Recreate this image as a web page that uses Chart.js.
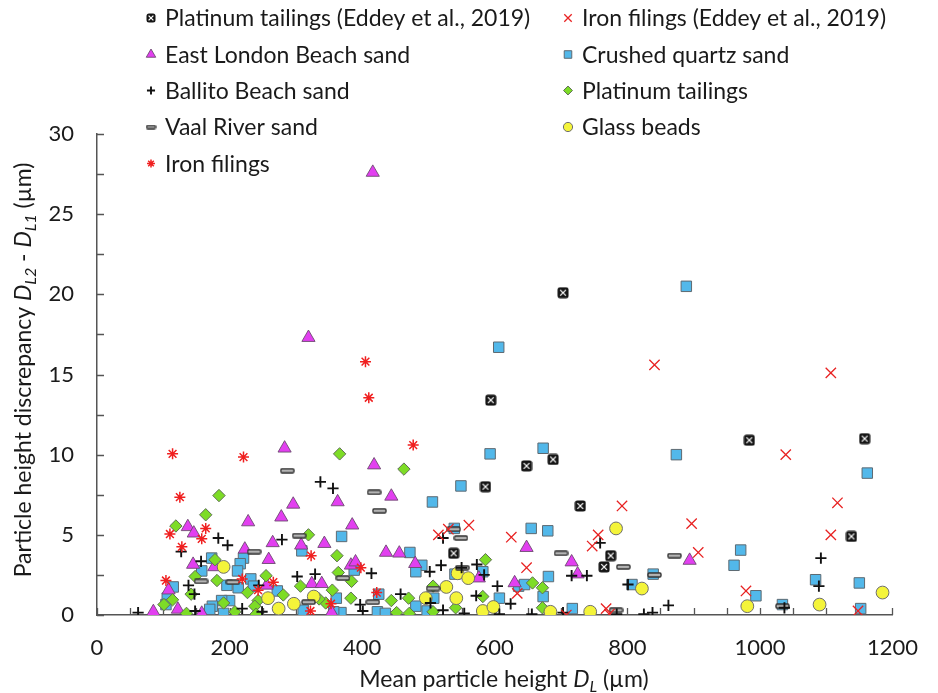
<!DOCTYPE html>
<html>
<head>
<meta charset="utf-8">
<script src="https://cdn.jsdelivr.net/npm/chart.js@4.4.1/dist/chart.umd.min.js"></script>
<style>
  html, body { margin: 0; padding: 0; background: #fff; }
  #wrap { width: 938px; height: 693px; }
</style>
</head>
<body>
<div id="wrap"><canvas id="c" width="938" height="693"></canvas></div>
<script>
// ---- data: [mean particle height D_L (µm), discrepancy D_L2 - D_L1 (µm)] ----
const platinumTailingsEddey = [[703,20.1],[594,13.4],[984,10.9],[1158,11.0],[586,8.0],[648,9.3],[688,9.7],[729,6.8],[538,3.85],[775,3.7],[765,3.0],[1138,4.9]];
const ironFilingsEddey = [[515,5.0],[530,5.35],[561,5.6],[625,4.85],[648,2.95],[634,1.35],[708,0.0],[756,5.0],[747,4.3],[792,6.8],[841,15.6],[897,5.7],[907,3.9],[979,1.5],[1039,10.0],[1107,15.1],[1117,7.0],[1107,5.0],[1148,0.25],[768,0.4],[773,0.05]];
const eastLondonBeachSand = [[416,27.6],[319,17.3],[283,10.4],[296,6.9],[278,6.1],[228,5.8],[137,5.5],[146,5.1],[265,4.5],[223,4.1],[308,4.35],[259,3.45],[145,3.15],[177,3.0],[108,1.55],[85,0.2],[158,0.1],[122,0.35],[256,1.85],[418,9.35],[444,7.4],[363,7.05],[385,5.6],[343,4.45],[436,3.9],[456,3.85],[480,3.2],[383,3.1],[390,3.3],[324,1.95],[339,1.95],[354,0.15],[576,2.3],[648,4.2],[716,3.3],[725,2.55],[630,2.0],[894,3.4]];
const crushedQuartzSand = [[889,20.5],[606,16.7],[673,10.4],[593,10.05],[874,10.0],[1162,8.85],[549,8.05],[506,7.05],[539,5.4],[655,5.4],[680,5.25],[369,4.9],[309,4.0],[472,3.9],[490,3.1],[481,2.7],[388,2.8],[540,2.55],[582,2.7],[361,1.05],[425,1.3],[508,1.05],[481,0.55],[498,0.25],[423,0.2],[435,0.1],[368,0.15],[357,0.2],[311,0.3],[173,3.55],[221,3.55],[216,3.2],[212,2.75],[158,2.75],[232,2.25],[115,1.75],[196,1.85],[213,1.7],[236,1.8],[106,1.05],[104,0.65],[200,0.9],[188,0.9],[174,0.55],[170,0.35],[191,0.1],[272,1.5],[681,2.4],[636,1.8],[645,1.9],[673,1.15],[607,1.05],[717,0.4],[807,1.9],[839,2.55],[971,4.05],[961,3.1],[1084,2.2],[1150,2.0],[994,1.2],[1034,0.65],[1152,0.4]];
const ballitoBeachSand = [[183,4.8],[197,4.35],[279,4.7],[127,3.95],[157,3.35],[138,1.85],[147,1.3],[302,2.4],[244,1.85],[148,0.25],[219,0.4],[249,0.2],[62,0.15],[337,8.3],[356,7.9],[522,4.8],[414,2.6],[329,2.55],[502,2.7],[519,3.1],[573,3.15],[550,2.95],[584,2.5],[458,1.3],[572,1.2],[397,0.65],[401,0.25],[522,0.3],[554,0.1],[503,0.75],[759,4.5],[716,2.45],[739,2.45],[604,1.8],[624,0.7],[656,0.05],[607,0.05],[703,0.15],[801,1.9],[862,0.6],[784,0.05],[825,0.05],[838,0.15],[1092,3.55],[1089,1.8],[1037,0.45]];
const platinumTailings = [[184,7.45],[164,6.25],[119,5.55],[178,3.45],[148,2.4],[181,2.15],[255,2.45],[142,1.3],[227,1.4],[281,1.25],[114,0.95],[101,0.65],[191,0.75],[243,0.9],[238,0.55],[135,0.1],[208,0.2],[240,0.05],[366,10.05],[463,9.1],[319,5.0],[362,3.7],[364,2.65],[384,2.1],[307,1.8],[355,1.55],[383,1.05],[586,3.45],[470,1.05],[444,0.9],[507,1.8],[582,1.15],[541,0.45],[452,0.15],[471,0.1],[507,0.2],[345,0.75],[335,1.0],[657,2.0],[672,1.7],[672,0.45]];
const vaalRiverSand = [[287,9.0],[237,3.95],[305,4.95],[157,2.1],[205,2.05],[418,7.65],[426,6.5],[538,5.35],[549,4.8],[371,2.3],[507,1.65],[551,2.95],[416,0.8],[319,0.8],[700,3.85],[794,3.0],[841,2.5],[871,3.7],[783,0.3],[1034,0.55]];
const glassBeads = [[191,3.0],[258,1.05],[274,0.4],[297,0.7],[327,1.15],[527,1.75],[496,1.05],[544,2.6],[560,2.3],[542,1.05],[582,0.25],[598,0.5],[783,5.4],[684,0.2],[744,0.2],[822,1.65],[1185,1.4],[981,0.55],[1090,0.65]];
const ironFilings = [[114,10.05],[221,9.85],[125,7.35],[164,5.4],[110,5.05],[158,4.75],[128,4.25],[104,2.15],[219,2.25],[266,2.05],[243,1.55],[405,15.8],[410,13.55],[477,10.6],[323,3.7],[398,2.95],[422,1.4],[353,0.7],[322,0.25]];

// axis ranges and tick steps
const xRange = [0, 1200];
const yRange = [0, 30];
const xLabelStep = 200, xMinorStep = 50;
const yLabelStep = 5, yMinorStep = 2.5;

const FONT = 'Lato, "Open Sans", "DejaVu Sans", sans-serif';
const FS = 23;      // legend and axis titles
const TICK_FS = 22; // tick labels

// custom marker: black square with white diagonal cross
function crossedSquare(s) {
  const c = document.createElement('canvas');
  c.width = s; c.height = s;
  const g = c.getContext('2d');
  g.fillStyle = '#151515';
  g.beginPath();
  g.roundRect(0.5, 0.5, s - 1, s - 1, 2.5);
  g.fill();
  g.strokeStyle = '#ffffff';
  g.lineWidth = 1.3;
  const m = s * 0.26;
  g.beginPath();
  g.moveTo(m, m); g.lineTo(s - m, s - m);
  g.moveTo(s - m, m); g.lineTo(m, s - m);
  g.stroke();
  return c;
}
// custom marker: short outlined horizontal bar
function dashMark(w, h) {
  const c = document.createElement('canvas');
  c.width = w; c.height = h;
  const g = c.getContext('2d');
  g.fillStyle = '#b4b4b4';
  g.strokeStyle = '#333';
  g.lineWidth = 1.4;
  g.beginPath();
  g.roundRect(1, 1, w - 2, h - 2, 1.2);
  g.fill(); g.stroke();
  return c;
}
const crossedImg = crossedSquare(12);
const dashImg = dashMark(15, 6);
const crossedLegendImg = crossedSquare(10);
const dashLegendImg = dashMark(11, 5);

const toPts = arr => arr.map(p => ({ x: p[0], y: p[1] }));

// series definitions (first listed is drawn on top)
const series = {
  ironFilings: { label: 'Iron filings', data: ironFilings, pointStyle: 'star', radius: 5.5, bg: '#f02020', border: '#f02020', bw: 1.5 },
  ironEddey: { label: 'Iron filings (Eddey et al., 2019)', data: ironFilingsEddey, pointStyle: 'crossRot', radius: 7.3, bg: '#e82222', border: '#e82222', bw: 1.3 },
  ptEddey: { label: 'Platinum tailings (Eddey et al., 2019)', data: platinumTailingsEddey, pointStyle: crossedImg, legendStyle: crossedLegendImg, radius: 6, bg: '#151515', border: '#151515', bw: 0 },
  ballito: { label: 'Ballito Beach sand', data: ballitoBeachSand, pointStyle: 'cross', radius: 5.6, bg: '#111', border: '#111', bw: 1.9 },
  vaal: { label: 'Vaal River sand', data: vaalRiverSand, pointStyle: dashImg, legendStyle: dashLegendImg, radius: 6, bg: '#555', border: '#333', bw: 0 },
  glass: { label: 'Glass beads', data: glassBeads, pointStyle: 'circle', radius: 6.4, bg: '#f4f43a', border: '#6e6e6e', bw: 1 },
  ptTailings: { label: 'Platinum tailings', data: platinumTailings, pointStyle: 'rectRot', radius: 6.2, bg: '#7ddc26', border: '#5f6f55', bw: 1 },
  eastLondon: { label: 'East London Beach sand', data: eastLondonBeachSand, pointStyle: 'triangle', radius: 7.6, bg: '#e23ff0', border: '#6d4a70', bw: 0.9 },
  quartz: { label: 'Crushed quartz sand', data: crushedQuartzSand, pointStyle: 'rect', radius: 7.4, bg: '#52b8ea', border: '#5e6a72', bw: 1 }
};

const datasets = Object.values(series).map(s => ({
  label: s.label,
  data: toPts(s.data),
  pointStyle: s.pointStyle,
  pointRadius: s.radius,
  pointHoverRadius: s.radius,
  backgroundColor: s.bg,
  borderColor: s.border,
  pointBorderWidth: s.bw,
  showLine: false
}));

// legend layout: two columns, row-major
const legendCols = [
  ['ptEddey', 'eastLondon', 'ballito', 'vaal', 'ironFilings'],
  ['ironEddey', 'quartz', 'ptTailings', 'glass']
];
const legendColX = [151, 568];
const legendRowY = [18, 54.5, 90.5, 127, 163.5];

const legendPlugin = {
  id: 'twoColumnLegend',
  afterDraw(chart) {
    const ctx = chart.ctx;
    ctx.save();
    legendCols.forEach((col, ci) => {
      col.forEach((key, ri) => {
        const s = series[key];
        const x = legendColX[ci], y = legendRowY[ri];
        ctx.fillStyle = s.bg;
        ctx.strokeStyle = s.border;
        ctx.lineWidth = s.bw || 1;
        Chart.helpers.drawPoint(ctx, {
          pointStyle: s.legendStyle || s.pointStyle, rotation: 0,
          radius: s.radius * 0.72,
          borderWidth: s.bw
        }, x, y);
        ctx.fillStyle = '#1a1a1a';
        ctx.font = FS + 'px ' + FONT;
        ctx.textAlign = 'left';
        ctx.textBaseline = 'middle';
        ctx.fillText(s.label, x + 14, y + 1);
      });
    });
    ctx.restore();
  }
};

// inward tick marks on both axes
const tickPlugin = {
  id: 'inwardTicks',
  beforeDatasetsDraw(chart) {
    const { ctx, chartArea: a, scales: { x, y } } = chart;
    ctx.save();
    ctx.strokeStyle = '#555';
    ctx.lineWidth = 1.3;
    ctx.beginPath();
    for (let v = xRange[0]; v <= xRange[1] + 1e-9; v += xMinorStep) {
      const px = Math.round(x.getPixelForValue(v)) + 0.5;
      ctx.moveTo(px, a.bottom);
      ctx.lineTo(px, a.bottom - 7);
    }
    for (let v = yRange[0]; v <= yRange[1] + 1e-9; v += yMinorStep) {
      const py = Math.round(y.getPixelForValue(v)) + 0.5;
      ctx.moveTo(a.left, py);
      ctx.lineTo(a.left + 7, py);
    }
    ctx.stroke();
    ctx.restore();
  }
};

// axis titles with italic symbols and subscripts
function drawRich(ctx, parts, cx, baseY, size) {
  const fontOf = p => (p.i ? 'italic ' : '') + (p.sub ? Math.round(size * 0.68) : size) + 'px ' + FONT;
  let total = 0;
  const items = parts.map(p => {
    ctx.font = fontOf(p);
    const w = ctx.measureText(p.t).width;
    total += w;
    return { p, w };
  });
  let x = cx - total / 2;
  ctx.textAlign = 'left';
  ctx.textBaseline = 'alphabetic';
  items.forEach(({ p, w }) => {
    ctx.font = fontOf(p);
    ctx.fillText(p.t, x, baseY + (p.sub ? size * 0.22 : 0));
    x += w;
  });
}
const xTitleParts = [{ t: 'Mean particle height ' }, { t: 'D', i: true }, { t: 'L', i: true, sub: true }, { t: ' (µm)' }];
const yTitleParts = [{ t: 'Particle height discrepancy ' }, { t: 'D', i: true }, { t: 'L2', i: true, sub: true }, { t: ' - ' }, { t: 'D', i: true }, { t: 'L1', i: true, sub: true }, { t: ' (µm)' }];

const titlePlugin = {
  id: 'axisTitles',
  afterDraw(chart) {
    const ctx = chart.ctx;
    ctx.save();
    ctx.fillStyle = '#1a1a1a';
    drawRich(ctx, xTitleParts, 504, 687, FS);
    ctx.translate(31, 370);
    ctx.rotate(-Math.PI / 2);
    drawRich(ctx, yTitleParts, 0, 0, FS);
    ctx.restore();
  }
};

new Chart(document.getElementById('c'), {
  type: 'scatter',
  data: { datasets },
  options: {
    responsive: false,
    animation: false,
    devicePixelRatio: 1,
    layout: { padding: { left: 0, top: 134, right: 27, bottom: 0 } },
    plugins: { legend: { display: false }, tooltip: { enabled: false } },
    scales: {
      x: {
        type: 'linear', position: 'bottom', min: xRange[0], max: xRange[1],
        ticks: { stepSize: xLabelStep, padding: 20, color: '#1a1a1a', font: { family: FONT, size: TICK_FS }, maxRotation: 0,
                 callback: v => String(v) },
        grid: { display: false, drawTicks: false },
        border: { display: true, color: '#555', width: 1.5 },
        afterFit(s) { s.height = 78; }
      },
      y: {
        type: 'linear', min: yRange[0], max: yRange[1],
        ticks: { stepSize: yLabelStep, padding: 23, color: '#1a1a1a', font: { family: FONT, size: TICK_FS },
                 callback: v => String(v) },
        grid: { display: false, drawTicks: false },
        border: { display: true, color: '#555', width: 1.5 },
        afterFit(s) { s.width = 97; }
      }
    }
  },
  plugins: [tickPlugin, legendPlugin, titlePlugin]
});
</script>
</body>
</html>
